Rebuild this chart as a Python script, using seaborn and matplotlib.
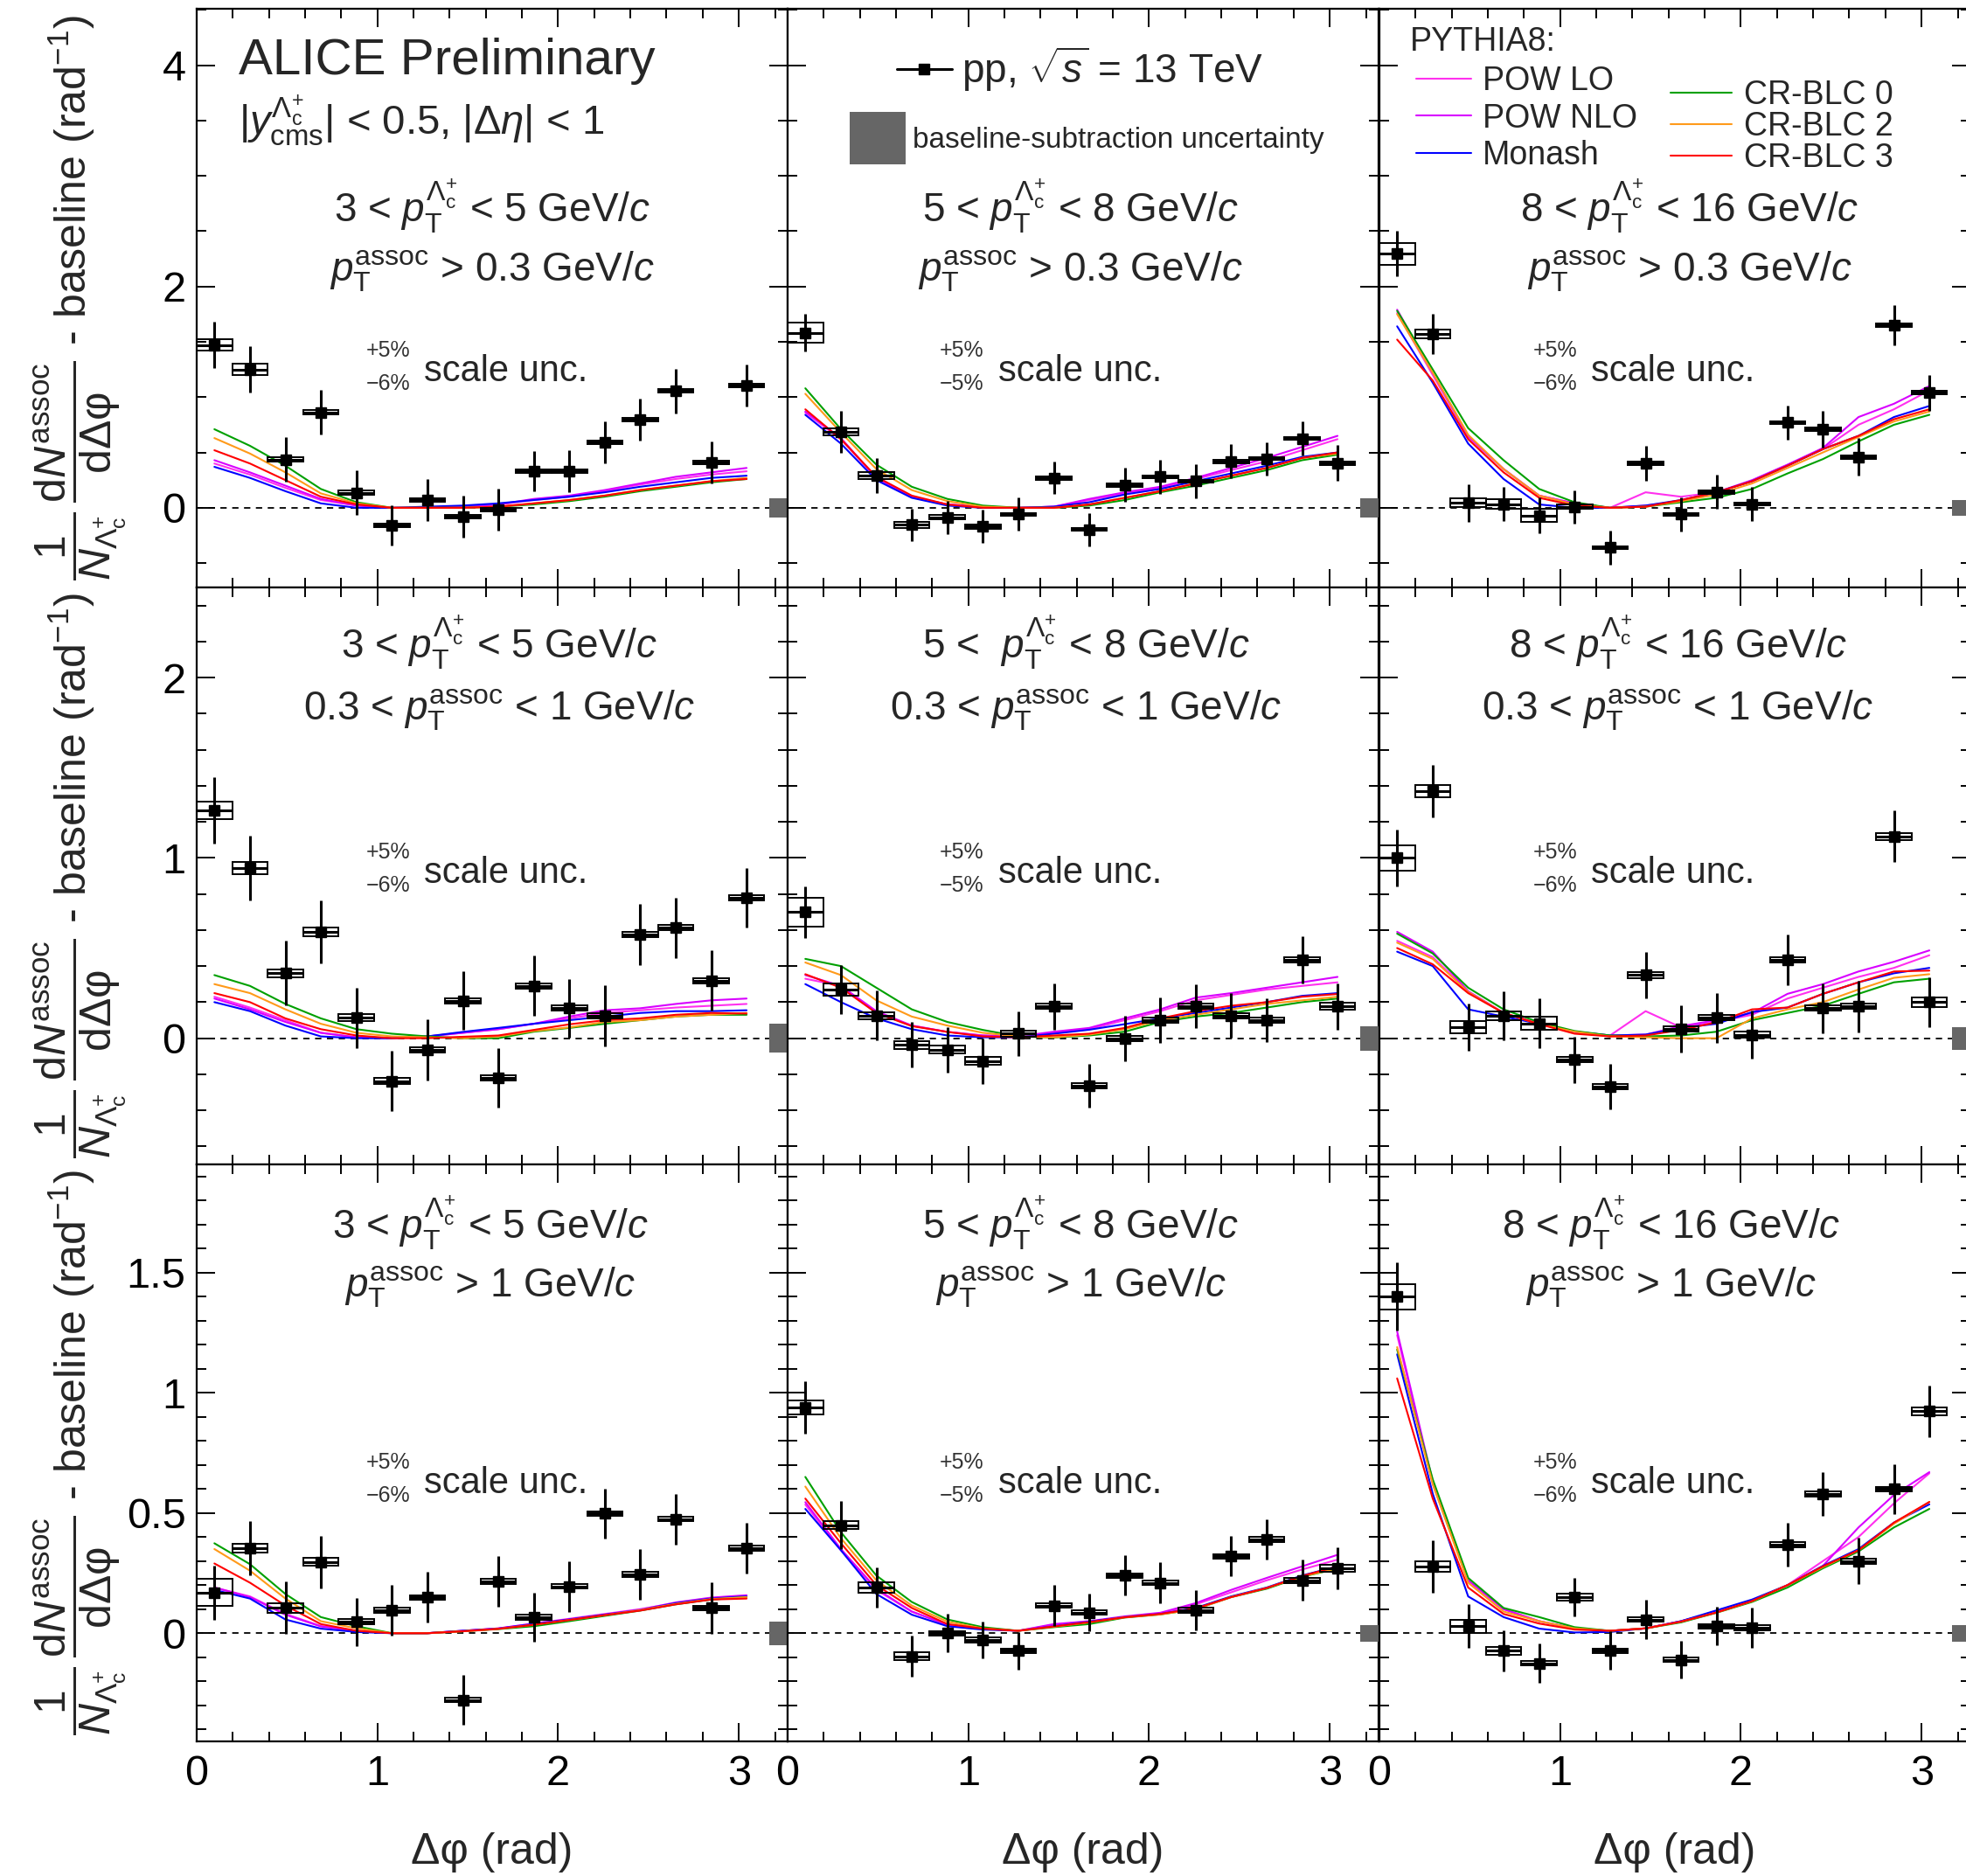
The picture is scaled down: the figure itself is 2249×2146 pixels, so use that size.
import numpy as np
import pandas as pd
import matplotlib
matplotlib.use("Agg")
import matplotlib.pyplot as plt
import seaborn as sns
from matplotlib.patches import Rectangle, Patch
from matplotlib.lines import Line2D
from matplotlib.ticker import MultipleLocator, FuncFormatter
import matplotlib.transforms as mtransforms

# ---------------- data ----------------
phi = [0.098, 0.295, 0.491, 0.687, 0.884, 1.080, 1.276, 1.473,
       1.669, 1.865, 2.062, 2.258, 2.454, 2.651, 2.847, 3.043]
half_bin = 0.098

model_names = ["POW LO", "POW NLO", "Monash", "CR-BLC 0", "CR-BLC 2", "CR-BLC 3"]
model_colors = ["#ff30ee", "#d800ff", "#0000ff", "#00a000", "#ff9a1a", "#ff0000"]

# row 1: pT assoc > 0.3
y_r1c1 = [1.47, 1.25, 0.435, 0.863, 0.137, -0.16, 0.068, -0.08, -0.017, 0.33, 0.33, 0.59, 0.795, 1.055, 0.41, 1.106]
stat_r1c1 = [0.21, 0.21, 0.20, 0.20, 0.20, 0.18, 0.19, 0.19, 0.19, 0.18, 0.19, 0.19, 0.19, 0.20, 0.19, 0.19]
sys_r1c1 = [0.05, 0.05, 0.02, 0.02, 0.02, 0.015, 0.015, 0.015, 0.015, 0.015, 0.015, 0.015, 0.015, 0.015, 0.015, 0.015]
powlo_r1c1 = [0.40, 0.30, 0.18, 0.07, 0.02, 0.0, 0.0, 0.01, 0.03, 0.07, 0.10, 0.15, 0.21, 0.26, 0.30, 0.33]
pownlo_r1c1 = [0.43, 0.32, 0.20, 0.08, 0.02, 0.0, 0.0, 0.01, 0.03, 0.08, 0.11, 0.16, 0.22, 0.28, 0.32, 0.36]
monash_r1c1 = [0.37, 0.27, 0.15, 0.04, 0.0, 0.0, 0.01, 0.02, 0.04, 0.07, 0.10, 0.14, 0.19, 0.23, 0.27, 0.29]
crblc0_r1c1 = [0.71, 0.56, 0.38, 0.17, 0.05, 0.0, 0.0, 0.0, 0.01, 0.03, 0.06, 0.10, 0.15, 0.19, 0.23, 0.26]
crblc2_r1c1 = [0.63, 0.49, 0.32, 0.13, 0.04, 0.0, 0.0, 0.0, 0.01, 0.04, 0.07, 0.11, 0.16, 0.20, 0.24, 0.27]
crblc3_r1c1 = [0.52, 0.40, 0.25, 0.10, 0.03, 0.0, 0.0, 0.0, 0.01, 0.04, 0.07, 0.11, 0.16, 0.20, 0.24, 0.26]

y_r1c2 = [1.58, 0.685, 0.29, -0.155, -0.085, -0.17, -0.06, 0.27, -0.195, 0.205, 0.28, 0.24, 0.42, 0.445, 0.627, 0.404]
stat_r1c2 = [0.17, 0.19, 0.16, 0.145, 0.15, 0.15, 0.15, 0.146, 0.15, 0.154, 0.154, 0.154, 0.154, 0.15, 0.154, 0.16]
sys_r1c2 = [0.09, 0.03, 0.03, 0.03, 0.02, 0.02, 0.015, 0.015, 0.015, 0.015, 0.015, 0.015, 0.015, 0.015, 0.015, 0.015]
powlo_r1c2 = [0.86, 0.62, 0.27, 0.10, 0.03, 0.01, 0.0, 0.01, 0.07, 0.13, 0.18, 0.26, 0.34, 0.42, 0.52, 0.62]
pownlo_r1c2 = [0.87, 0.63, 0.27, 0.10, 0.03, 0.01, 0.0, 0.01, 0.08, 0.14, 0.19, 0.27, 0.36, 0.45, 0.55, 0.65]
monash_r1c2 = [0.84, 0.58, 0.25, 0.09, 0.02, 0.0, 0.0, 0.01, 0.05, 0.12, 0.17, 0.24, 0.31, 0.38, 0.46, 0.50]
crblc0_r1c2 = [1.08, 0.71, 0.39, 0.19, 0.08, 0.02, 0.0, 0.0, 0.02, 0.07, 0.14, 0.20, 0.27, 0.34, 0.43, 0.48]
crblc2_r1c2 = [1.03, 0.68, 0.35, 0.16, 0.06, 0.01, 0.0, 0.0, 0.03, 0.09, 0.15, 0.22, 0.29, 0.36, 0.45, 0.49]
crblc3_r1c2 = [0.89, 0.62, 0.28, 0.11, 0.03, 0.0, 0.0, 0.0, 0.03, 0.09, 0.15, 0.22, 0.29, 0.36, 0.45, 0.50]

y_r1c3 = [2.295, 1.57, 0.045, 0.034, -0.07, 0.01, -0.36, 0.40, -0.06, 0.144, 0.034, 0.77, 0.71, 0.46, 1.65, 1.04]
stat_r1c3 = [0.205, 0.18, 0.17, 0.154, 0.163, 0.15, 0.154, 0.16, 0.154, 0.154, 0.154, 0.154, 0.163, 0.17, 0.18, 0.163]
sys_r1c3 = [0.10, 0.04, 0.04, 0.04, 0.06, 0.02, 0.015, 0.015, 0.015, 0.015, 0.015, 0.015, 0.015, 0.015, 0.015, 0.015]
powlo_r1c3 = [1.76, 1.20, 0.64, 0.35, 0.11, 0.04, 0.0, 0.14, 0.10, 0.14, 0.24, 0.38, 0.53, 0.75, 0.89, 1.06]
pownlo_r1c3 = [1.79, 1.22, 0.65, 0.35, 0.11, 0.04, 0.0, 0.02, 0.06, 0.14, 0.25, 0.39, 0.54, 0.82, 0.94, 1.10]
monash_r1c3 = [1.64, 1.13, 0.58, 0.26, 0.03, 0.0, 0.0, 0.02, 0.07, 0.14, 0.24, 0.38, 0.53, 0.65, 0.82, 0.92]
crblc0_r1c3 = [1.78, 1.25, 0.72, 0.43, 0.17, 0.05, 0.0, 0.01, 0.05, 0.09, 0.17, 0.31, 0.44, 0.60, 0.75, 0.84]
crblc2_r1c3 = [1.75, 1.22, 0.66, 0.35, 0.11, 0.03, 0.0, 0.01, 0.06, 0.12, 0.22, 0.36, 0.50, 0.64, 0.78, 0.87]
crblc3_r1c3 = [1.52, 1.15, 0.62, 0.32, 0.09, 0.02, 0.0, 0.01, 0.07, 0.14, 0.24, 0.38, 0.53, 0.65, 0.80, 0.89]

# row 2: 0.3 < pT assoc < 1
y_r2c1 = [1.264, 0.945, 0.36, 0.59, 0.113, -0.237, -0.065, 0.208, -0.22, 0.29, 0.166, 0.124, 0.577, 0.613, 0.32, 0.777]
stat_r2c1 = [0.184, 0.179, 0.179, 0.173, 0.168, 0.168, 0.168, 0.163, 0.166, 0.168, 0.163, 0.168, 0.17, 0.168, 0.168, 0.165]
sys_r2c1 = [0.05, 0.035, 0.02, 0.025, 0.02, 0.015, 0.015, 0.015, 0.015, 0.015, 0.015, 0.015, 0.015, 0.015, 0.015, 0.015]
powlo_r2c1 = [0.23, 0.17, 0.10, 0.03, 0.005, 0.0, 0.01, 0.03, 0.05, 0.08, 0.11, 0.14, 0.155, 0.17, 0.18, 0.19]
pownlo_r2c1 = [0.22, 0.16, 0.09, 0.03, 0.005, 0.0, 0.01, 0.03, 0.05, 0.08, 0.12, 0.155, 0.166, 0.19, 0.21, 0.22]
monash_r2c1 = [0.20, 0.15, 0.07, 0.01, 0.0, 0.0, 0.01, 0.035, 0.057, 0.08, 0.10, 0.12, 0.14, 0.15, 0.15, 0.155]
crblc0_r2c1 = [0.35, 0.29, 0.19, 0.11, 0.05, 0.025, 0.01, 0.0, 0.0, 0.036, 0.057, 0.08, 0.10, 0.12, 0.13, 0.13]
crblc2_r2c1 = [0.30, 0.25, 0.16, 0.08, 0.03, 0.01, 0.005, 0.0, 0.01, 0.04, 0.06, 0.09, 0.10, 0.12, 0.13, 0.14]
crblc3_r2c1 = [0.25, 0.20, 0.11, 0.05, 0.015, 0.0, 0.0, 0.008, 0.015, 0.046, 0.077, 0.10, 0.11, 0.13, 0.14, 0.137]

y_r2c2 = [0.70, 0.27, 0.126, -0.038, -0.063, -0.126, 0.025, 0.176, -0.265, 0.0, 0.1, 0.178, 0.126, 0.1, 0.435, 0.176]
stat_r2c2 = [0.142, 0.134, 0.137, 0.126, 0.126, 0.126, 0.123, 0.128, 0.122, 0.126, 0.128, 0.123, 0.124, 0.121, 0.132, 0.128]
sys_r2c2 = [0.08, 0.035, 0.02, 0.02, 0.02, 0.02, 0.015, 0.015, 0.015, 0.015, 0.015, 0.015, 0.015, 0.015, 0.015, 0.02]
powlo_r2c2 = [0.33, 0.29, 0.14, 0.07, 0.035, 0.015, 0.01, 0.03, 0.05, 0.10, 0.15, 0.21, 0.24, 0.27, 0.29, 0.31]
pownlo_r2c2 = [0.35, 0.29, 0.15, 0.07, 0.035, 0.015, 0.01, 0.036, 0.057, 0.11, 0.16, 0.225, 0.25, 0.28, 0.31, 0.34]
monash_r2c2 = [0.30, 0.20, 0.11, 0.05, 0.015, 0.005, 0.005, 0.025, 0.047, 0.078, 0.11, 0.14, 0.17, 0.20, 0.235, 0.25]
crblc0_r2c2 = [0.44, 0.40, 0.28, 0.16, 0.09, 0.046, 0.01, 0.004, 0.015, 0.036, 0.09, 0.12, 0.14, 0.17, 0.20, 0.22]
crblc2_r2c2 = [0.42, 0.35, 0.21, 0.12, 0.07, 0.03, 0.01, 0.005, 0.02, 0.05, 0.10, 0.13, 0.16, 0.19, 0.21, 0.23]
crblc3_r2c2 = [0.355, 0.28, 0.14, 0.067, 0.035, 0.01, 0.005, 0.015, 0.025, 0.057, 0.11, 0.15, 0.18, 0.20, 0.23, 0.245]

y_r2c3 = [1.00, 1.37, 0.06, 0.124, 0.082, -0.12, -0.27, 0.35, 0.052, 0.113, 0.02, 0.435, 0.166, 0.176, 1.12, 0.20]
stat_r2c3 = [0.158, 0.147, 0.131, 0.134, 0.137, 0.13, 0.126, 0.129, 0.131, 0.139, 0.134, 0.139, 0.139, 0.142, 0.142, 0.137]
sys_r2c3 = [0.07, 0.035, 0.035, 0.025, 0.035, 0.015, 0.015, 0.015, 0.015, 0.015, 0.015, 0.015, 0.015, 0.015, 0.02, 0.025]
powlo_r2c3 = [0.54, 0.45, 0.26, 0.14, 0.08, 0.036, 0.015, 0.15, 0.06, 0.09, 0.13, 0.22, 0.28, 0.34, 0.39, 0.46]
pownlo_r2c3 = [0.59, 0.48, 0.26, 0.14, 0.08, 0.036, 0.015, 0.02, 0.067, 0.10, 0.14, 0.246, 0.30, 0.37, 0.424, 0.487]
monash_r2c3 = [0.48, 0.40, 0.16, 0.12, 0.08, 0.036, 0.015, 0.02, 0.057, 0.08, 0.145, 0.17, 0.246, 0.31, 0.36, 0.39]
crblc0_r2c3 = [0.58, 0.47, 0.28, 0.16, 0.088, 0.04, 0.015, 0.01, 0.015, 0.036, 0.10, 0.14, 0.18, 0.246, 0.31, 0.33]
crblc2_r2c3 = [0.53, 0.44, 0.256, 0.14, 0.078, 0.036, 0.01, 0.005, 0.0, 0.0, 0.11, 0.16, 0.20, 0.27, 0.335, 0.355]
crblc3_r2c3 = [0.50, 0.41, 0.25, 0.14, 0.078, 0.025, 0.01, 0.015, 0.046, 0.088, 0.16, 0.17, 0.246, 0.31, 0.37, 0.375]

# row 3: pT assoc > 1
y_r3c1 = [0.169, 0.354, 0.105, 0.297, 0.048, 0.096, 0.149, -0.278, 0.215, 0.067, 0.195, 0.498, 0.245, 0.475, 0.105, 0.354]
stat_r3c1 = [0.112, 0.112, 0.109, 0.109, 0.10, 0.105, 0.105, 0.103, 0.105, 0.103, 0.105, 0.103, 0.106, 0.105, 0.107, 0.105]
sys_r3c1 = [0.057, 0.017, 0.02, 0.015, 0.01, 0.01, 0.01, 0.01, 0.01, 0.01, 0.01, 0.01, 0.01, 0.01, 0.01, 0.01]
powlo_r3c1 = [0.19, 0.153, 0.08, 0.03, 0.01, 0.0, 0.0, 0.01, 0.02, 0.04, 0.06, 0.08, 0.10, 0.125, 0.145, 0.155]
pownlo_r3c1 = [0.19, 0.15, 0.077, 0.028, 0.01, 0.0, 0.0, 0.01, 0.02, 0.04, 0.058, 0.078, 0.098, 0.128, 0.148, 0.158]
monash_r3c1 = [0.18, 0.144, 0.057, 0.019, 0.005, 0.0, 0.0, 0.01, 0.019, 0.038, 0.057, 0.077, 0.096, 0.125, 0.144, 0.153]
crblc0_r3c1 = [0.374, 0.287, 0.163, 0.067, 0.029, 0.0, 0.0, 0.008, 0.017, 0.029, 0.05, 0.072, 0.094, 0.12, 0.14, 0.15]
crblc2_r3c1 = [0.35, 0.26, 0.144, 0.05, 0.02, 0.0, 0.0, 0.008, 0.018, 0.035, 0.055, 0.075, 0.096, 0.122, 0.142, 0.15]
crblc3_r3c1 = [0.29, 0.21, 0.115, 0.038, 0.01, 0.0, 0.0, 0.008, 0.018, 0.035, 0.055, 0.075, 0.094, 0.12, 0.14, 0.144]

y_r3c2 = [0.939, 0.45, 0.19, -0.096, 0.0, -0.029, -0.073, 0.115, 0.086, 0.24, 0.21, 0.096, 0.32, 0.39, 0.22, 0.27]
stat_r3c2 = [0.108, 0.099, 0.083, 0.086, 0.08, 0.077, 0.077, 0.086, 0.077, 0.084, 0.084, 0.084, 0.084, 0.083, 0.086, 0.086]
sys_r3c2 = [0.03, 0.017, 0.023, 0.017, 0.01, 0.01, 0.01, 0.01, 0.01, 0.01, 0.01, 0.01, 0.01, 0.01, 0.01, 0.015]
powlo_r3c2 = [0.535, 0.345, 0.18, 0.09, 0.035, 0.019, 0.01, 0.035, 0.048, 0.067, 0.08, 0.12, 0.17, 0.22, 0.265, 0.306]
pownlo_r3c2 = [0.545, 0.35, 0.185, 0.09, 0.035, 0.019, 0.01, 0.038, 0.05, 0.07, 0.085, 0.125, 0.18, 0.23, 0.278, 0.326]
monash_r3c2 = [0.517, 0.345, 0.163, 0.077, 0.029, 0.015, 0.01, 0.029, 0.048, 0.067, 0.08, 0.105, 0.153, 0.19, 0.24, 0.278]
crblc0_r3c2 = [0.65, 0.42, 0.24, 0.13, 0.057, 0.025, 0.01, 0.025, 0.038, 0.065, 0.078, 0.10, 0.15, 0.185, 0.235, 0.268]
crblc2_r3c2 = [0.61, 0.395, 0.22, 0.115, 0.048, 0.02, 0.01, 0.027, 0.045, 0.066, 0.078, 0.10, 0.15, 0.188, 0.236, 0.27]
crblc3_r3c2 = [0.56, 0.374, 0.20, 0.105, 0.038, 0.019, 0.01, 0.028, 0.046, 0.066, 0.08, 0.103, 0.15, 0.188, 0.238, 0.278]

y_r3c3 = [1.40, 0.278, 0.029, -0.073, -0.125, 0.15, -0.073, 0.057, -0.11, 0.029, 0.023, 0.368, 0.58, 0.30, 0.60, 0.923]
stat_r3c3 = [0.142, 0.108, 0.091, 0.086, 0.081, 0.08, 0.08, 0.083, 0.077, 0.08, 0.084, 0.091, 0.09, 0.096, 0.103, 0.107]
sys_r3c3 = [0.052, 0.022, 0.027, 0.017, 0.01, 0.015, 0.01, 0.01, 0.01, 0.01, 0.01, 0.01, 0.01, 0.01, 0.01, 0.015]
powlo_r3c3 = [1.24, 0.62, 0.22, 0.10, 0.05, 0.02, 0.01, 0.02, 0.05, 0.09, 0.135, 0.20, 0.30, 0.40, 0.54, 0.665]
pownlo_r3c3 = [1.255, 0.63, 0.22, 0.10, 0.05, 0.02, 0.01, 0.02, 0.05, 0.09, 0.135, 0.20, 0.28, 0.44, 0.575, 0.67]
monash_r3c3 = [1.16, 0.58, 0.153, 0.067, 0.019, 0.003, 0.005, 0.02, 0.05, 0.095, 0.14, 0.20, 0.28, 0.35, 0.46, 0.536]
crblc0_r3c3 = [1.18, 0.64, 0.23, 0.105, 0.067, 0.025, 0.01, 0.02, 0.045, 0.085, 0.13, 0.19, 0.27, 0.34, 0.44, 0.517]
crblc2_r3c3 = [1.19, 0.62, 0.21, 0.09, 0.05, 0.02, 0.01, 0.02, 0.048, 0.086, 0.133, 0.20, 0.275, 0.345, 0.455, 0.546]
crblc3_r3c3 = [1.06, 0.56, 0.19, 0.08, 0.04, 0.015, 0.01, 0.02, 0.048, 0.086, 0.134, 0.20, 0.278, 0.345, 0.46, 0.546]

# baseline-subtraction uncertainty (half height) per panel, row-major
baseline_unc = [0.085, 0.085, 0.07, 0.079, 0.068, 0.063, 0.05, 0.034, 0.035]

PT = r"$p_{\mathrm{T}}^{\Lambda_{\mathrm{c}}^{+}}$"
PA = r"$p_{\mathrm{T}}^{\mathrm{assoc}}$"
pt_labels = [["3 < " + PT + " < 5 GeV/$c$", "5 < " + PT + " < 8 GeV/$c$", "8 < " + PT + " < 16 GeV/$c$"],
             ["3 < " + PT + " < 5 GeV/$c$", "5 <  " + PT + " < 8 GeV/$c$", "8 < " + PT + " < 16 GeV/$c$"],
             ["3 < " + PT + " < 5 GeV/$c$", "5 < " + PT + " < 8 GeV/$c$", "8 < " + PT + " < 16 GeV/$c$"]]
assoc_labels = [PA + " > 0.3 GeV/$c$", "0.3 < " + PA + " < 1 GeV/$c$", PA + " > 1 GeV/$c$"]
scale_up = ["+5%", "+5%", "+5%"]
scale_dn = ["\u22126%", "\u22125%", "\u22126%"]

# ---------------- style ----------------
sns.set_theme(style="ticks")
plt.rcParams["font.family"] = ["Liberation Sans", "DejaVu Sans"]
plt.rcParams["mathtext.fontset"] = "custom"
plt.rcParams["mathtext.rm"] = "Liberation Sans"
plt.rcParams["mathtext.it"] = "Liberation Sans:italic"
plt.rcParams["mathtext.bf"] = "Liberation Sans:bold"
plt.rcParams["mathtext.sf"] = "Liberation Sans"
plt.rcParams["axes.linewidth"] = 1.6
plt.rcParams["axes.edgecolor"] = "black"

panels = [
    [(y_r1c1, stat_r1c1, sys_r1c1, [powlo_r1c1, pownlo_r1c1, monash_r1c1, crblc0_r1c1, crblc2_r1c1, crblc3_r1c1]),
     (y_r1c2, stat_r1c2, sys_r1c2, [powlo_r1c2, pownlo_r1c2, monash_r1c2, crblc0_r1c2, crblc2_r1c2, crblc3_r1c2]),
     (y_r1c3, stat_r1c3, sys_r1c3, [powlo_r1c3, pownlo_r1c3, monash_r1c3, crblc0_r1c3, crblc2_r1c3, crblc3_r1c3])],
    [(y_r2c1, stat_r2c1, sys_r2c1, [powlo_r2c1, pownlo_r2c1, monash_r2c1, crblc0_r2c1, crblc2_r2c1, crblc3_r2c1]),
     (y_r2c2, stat_r2c2, sys_r2c2, [powlo_r2c2, pownlo_r2c2, monash_r2c2, crblc0_r2c2, crblc2_r2c2, crblc3_r2c2]),
     (y_r2c3, stat_r2c3, sys_r2c3, [powlo_r2c3, pownlo_r2c3, monash_r2c3, crblc0_r2c3, crblc2_r2c3, crblc3_r2c3])],
    [(y_r3c1, stat_r3c1, sys_r3c1, [powlo_r3c1, pownlo_r3c1, monash_r3c1, crblc0_r3c1, crblc2_r3c1, crblc3_r3c1]),
     (y_r3c2, stat_r3c2, sys_r3c2, [powlo_r3c2, pownlo_r3c2, monash_r3c2, crblc0_r3c2, crblc2_r3c2, crblc3_r3c2]),
     (y_r3c3, stat_r3c3, sys_r3c3, [powlo_r3c3, pownlo_r3c3, monash_r3c3, crblc0_r3c3, crblc2_r3c3, crblc3_r3c3])],
]

FW, FH = 2249, 2146
fig = plt.figure(figsize=(FW / 100, FH / 100), dpi=100)

col_left = [225, 901, 1578]
row_top = [10, 672, 1332]
row_h = [662, 660, 660]
col_w = 676
xlim = (0, 3.27)
row_ylim = [(-0.72, 4.51), (-0.70, 2.50), (-0.45, 1.95)]
row_major = [2, 1, 0.5]
row_minor = [0.5, 0.2, 0.1]
line1_y = [0.631, 0.877, 0.870]
line2_y = [0.530, 0.770, 0.770]
scale_y = [0.356, 0.488, 0.43]
small_x = [0.287, 0.257, 0.26]
scale_x = [0.385, 0.357, 0.358]
label_xc = [[0.50, 0.496, 0.525], [0.512, 0.505, 0.505], [0.497, 0.496, 0.494]]

palette = dict(zip(model_names, model_colors))
ylab = (r"$\dfrac{1}{N_{\Lambda_{\mathrm{c}}^{+}}}\,\dfrac{\mathrm{d}N^{\mathrm{assoc}}}{\mathrm{d}\mathrm{\Delta\varphi}}$"
        r" - baseline (rad$^{-1}$)")

fmt = FuncFormatter(lambda v, p: "%g" % v)

for r in range(3):
    for c in range(3):
        left = col_left[c] / FW
        bottom = 1 - (row_top[r] + row_h[r]) / FH
        ax = fig.add_axes([left, bottom, col_w / FW, row_h[r] / FH])
        yv, st, sy, models = panels[r][c]

        df = pd.DataFrame({
            "phi": np.tile(phi, len(model_names)),
            "val": np.concatenate([np.asarray(m, float) for m in models]),
            "model": np.repeat(model_names, len(phi)),
        })
        ax.axhline(0, color="black", lw=1.3, ls=(0, (4, 3.5)), zorder=1)
        sns.lineplot(data=df, x="phi", y="val", hue="model", hue_order=model_names,
                     palette=palette, estimator=None, sort=False, legend=False,
                     lw=1.5, ax=ax, zorder=2)

        for xi, yi, si in zip(phi, yv, sy):
            ax.add_patch(Rectangle((xi - half_bin, yi - si), 2 * half_bin, 2 * si,
                                   fill=False, ec="black", lw=1.4, zorder=3))
        ax.errorbar(phi, yv, xerr=half_bin, yerr=st, fmt="s", color="black",
                    ms=9, elinewidth=2.2, capsize=0, zorder=4)

        b = baseline_unc[r * 3 + c]
        ax.add_patch(Rectangle((3.17, -b), 0.10, 2 * b, fc="#666666", ec="none",
                               zorder=5, clip_on=False))

        ax.set_xlim(*xlim)
        ax.set_ylim(*row_ylim[r])
        ax.xaxis.set_major_locator(MultipleLocator(1))
        ax.xaxis.set_minor_locator(MultipleLocator(0.2))
        ax.yaxis.set_major_locator(MultipleLocator(row_major[r]))
        ax.yaxis.set_minor_locator(MultipleLocator(row_minor[r]))
        ax.yaxis.set_major_formatter(fmt)
        ax.xaxis.set_major_formatter(fmt)
        ax.tick_params(which="both", direction="in", top=True, right=True,
                       width=1.4, colors="black", labelsize=35)
        ax.tick_params(which="major", length=15)
        ax.tick_params(which="minor", length=8)
        ax.tick_params(axis="x", pad=11)
        ax.tick_params(axis="y", pad=9)
        ax.tick_params(labelbottom=(r == 2), labelleft=(c == 0))
        for s in ax.spines.values():
            s.set_linewidth(1.6)
            s.set_color("black")

        ax.set_xlabel("")
        ax.set_ylabel("")
        if c == 0:
            ax.set_ylabel(ylab, fontsize=36, va="center")
            ax.yaxis.set_label_coords(-0.197, 0.5)
        if r == 2:
            ax.set_xlabel("\u0394\u03c6 (rad)", fontsize=36, va="center")
            ax.xaxis.set_label_coords(0.5, -127 / 660)

        ax.text(label_xc[r][c], line1_y[r], pt_labels[r][c], transform=ax.transAxes,
                ha="center", va="baseline", fontsize=33)
        ax.text(label_xc[r][c], line2_y[r], assoc_labels[r], transform=ax.transAxes,
                ha="center", va="baseline", fontsize=33)

        ax.text(scale_x[c], scale_y[r], "scale unc.", transform=ax.transAxes,
                ha="left", va="baseline", fontsize=30)
        tr_up = mtransforms.offset_copy(ax.transAxes, fig=fig, x=0, y=35, units="dots")
        tr_dn = mtransforms.offset_copy(ax.transAxes, fig=fig, x=0, y=-3, units="dots")
        ax.text(small_x[c], scale_y[r], scale_up[c], transform=tr_up, ha="left",
                va="center", fontsize=18, color="#333333")
        ax.text(small_x[c], scale_y[r], scale_dn[c], transform=tr_dn, ha="left",
                va="center", fontsize=18, color="#333333")

        if r == 0 and c == 0:
            ax.text(0.071, 0.886, "ALICE Preliminary", transform=ax.transAxes,
                    ha="left", va="baseline", fontsize=42)
            ax.text(0.071, 0.782,
                    r"$|y^{\Lambda_{\mathrm{c}}^{+}}_{\mathrm{cms}}|$ < 0.5, $|\Delta\eta|$ < 1",
                    transform=ax.transAxes, ha="left", va="baseline", fontsize=34)
        if r == 0 and c == 1:
            lgA = ax.legend(handles=[Line2D([], [], color="black", marker="s", ms=9, lw=2.2)],
                            labels=[r"pp, $\sqrt{s}$ = 13 TeV"], loc="center left",
                            bbox_to_anchor=(0.185, 0.896), fontsize=33, frameon=False,
                            handlelength=1.37, handletextpad=0.24, borderpad=0,
                            borderaxespad=0)
            ax.add_artist(lgA)
            ax.legend(handles=[Patch(facecolor="#666666", edgecolor="none")],
                      labels=["baseline-subtraction uncertainty"], loc="center left",
                      bbox_to_anchor=(0.105, 0.776), fontsize=24, frameon=False,
                      handlelength=1.92, handleheight=2.4, handletextpad=0.24,
                      borderpad=0, borderaxespad=0)
        if r == 0 and c == 2:
            ax.text(0.052, 0.943, "PYTHIA8:", transform=ax.transAxes, ha="left",
                    va="center", fontsize=27)
            hC = [Line2D([], [], color=palette[n], lw=1.5) for n in model_names[:3]]
            lgC = ax.legend(handles=hC, labels=model_names[:3], loc="upper left",
                            bbox_to_anchor=(0.062, 0.9015), fontsize=27, frameon=False,
                            handlelength=1.68, handletextpad=0.35, labelspacing=0.17,
                            borderpad=0, borderaxespad=0)
            ax.add_artist(lgC)
            hD = [Line2D([], [], color=palette[n], lw=1.5) for n in model_names[3:]]
            ax.legend(handles=hD, labels=model_names[3:], loc="upper left",
                      bbox_to_anchor=(0.493, 0.878), fontsize=27, frameon=False,
                      handlelength=1.87, handletextpad=0.35, labelspacing=0.0,
                      borderpad=0, borderaxespad=0)

fig.savefig("out.png", dpi=100)
